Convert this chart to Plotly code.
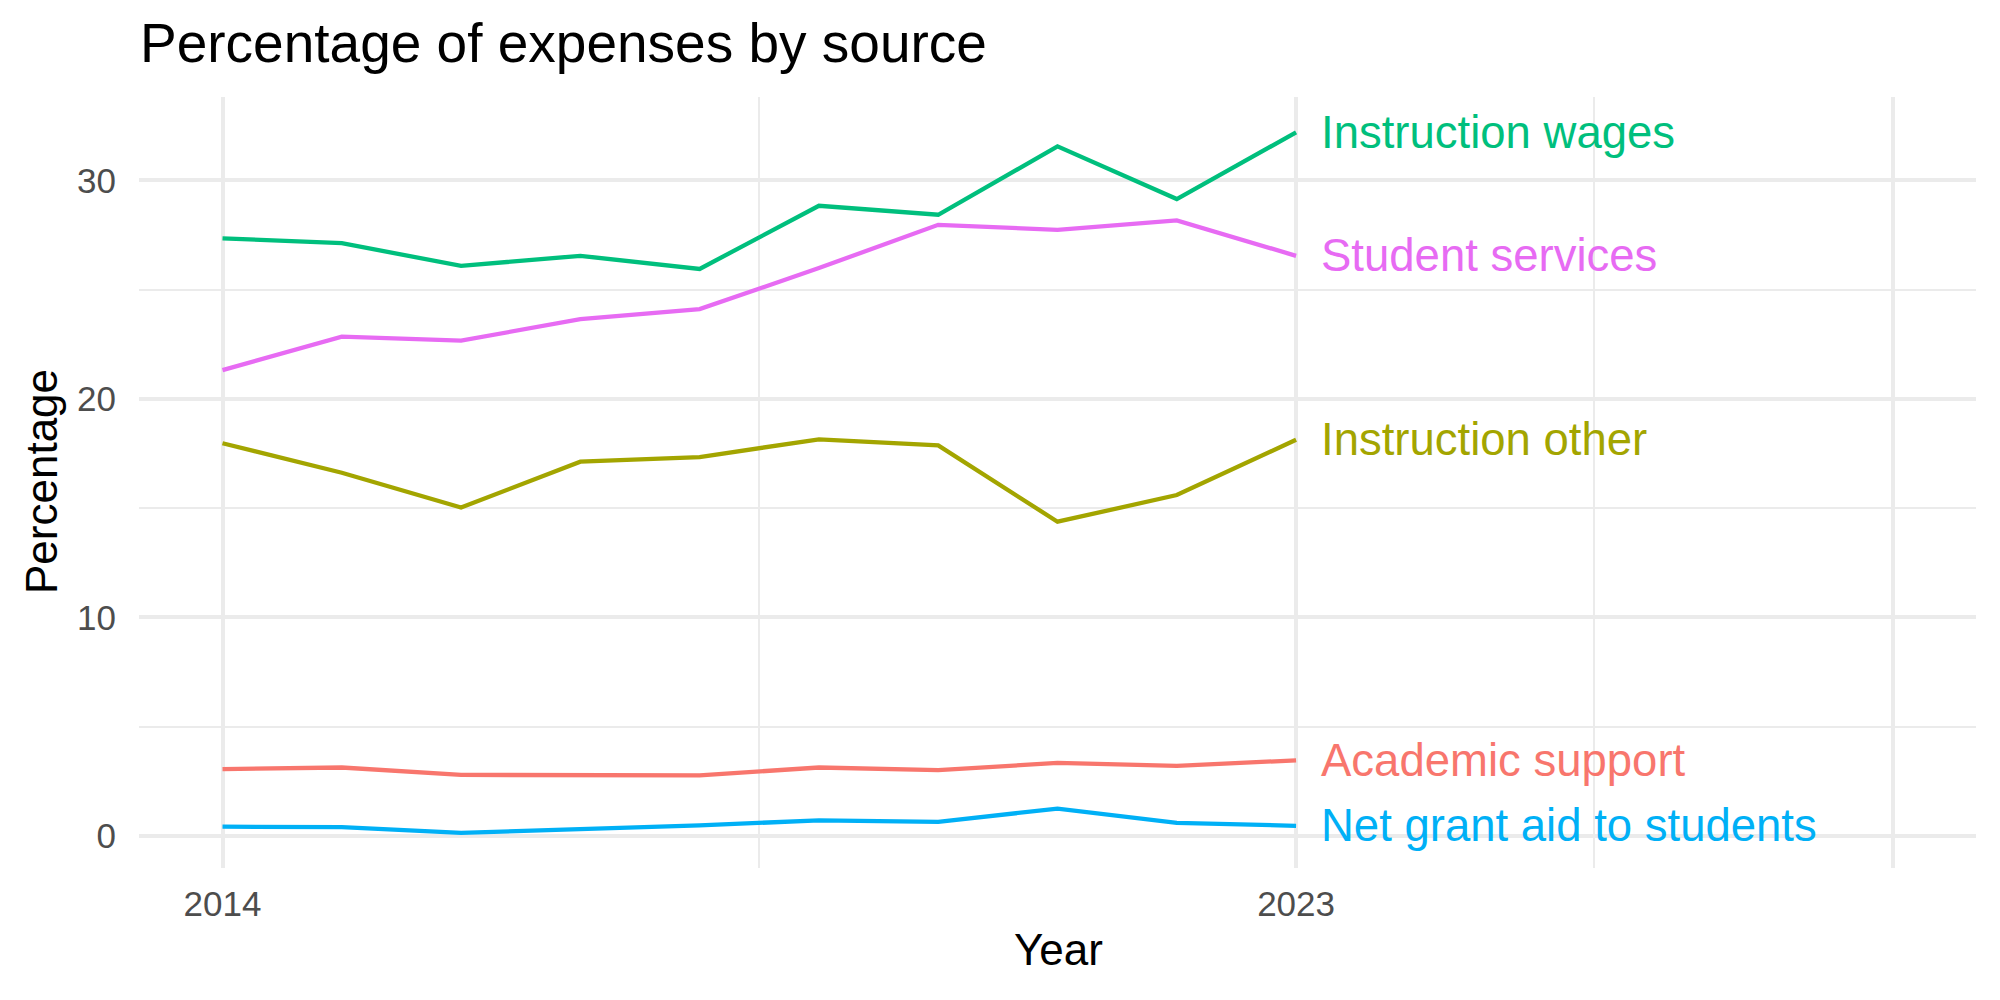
import plotly.graph_objects as go

years = [2014, 2015, 2016, 2017, 2018, 2019, 2020, 2021, 2022, 2023]

series_names = ["Instruction wages", "Student services", "Instruction other",
                "Academic support", "Net grant aid to students"]
instruction_wages = [27.35, 27.13, 26.09, 26.55, 25.95, 28.84, 28.43, 31.56, 29.15, 32.2]
student_services = [21.32, 22.85, 22.67, 23.65, 24.11, 25.99, 27.97, 27.74, 28.17, 26.55]
instruction_other = [17.97, 16.62, 15.03, 17.13, 17.34, 18.15, 17.87, 14.38, 15.6, 18.13]
academic_support = [3.06, 3.13, 2.79, 2.79, 2.77, 3.13, 3.01, 3.34, 3.2, 3.46]
net_grant_aid = [0.42, 0.4, 0.14, 0.3, 0.48, 0.71, 0.64, 1.25, 0.6, 0.46]

series_values = [instruction_wages, student_services, instruction_other,
                 academic_support, net_grant_aid]
colors = ["#00BF7D", "#E76BF3", "#A3A500", "#F8766D", "#00B0F6"]

x_tick_vals = [2014, 2023, 2028]
x_tick_text = ["2014", "2023", ""]
x_minor_vals = [2018.5, 2025.5]
y_tick_vals = [0, 10, 20, 30]
y_minor_vals = [5, 15, 25]

W, H = 2000, 1000
L, R, T, B = 139, 24, 97, 132
pw, ph = W - L - R, H - T - B
FONT = "Liberation Sans"

fig = go.Figure()
for name, vals, col in zip(series_names, series_values, colors):
    fig.add_trace(go.Scatter(x=years, y=vals, mode="lines", name=name,
                             line=dict(color=col, width=4.3), showlegend=False))

annotations = []
for name, vals, col in zip(series_names, series_values, colors):
    annotations.append(dict(x=years[-1] + 0.19, y=vals[-1], xref="x", yref="y",
                            text=name, showarrow=False, xanchor="left", yanchor="middle",
                            font=dict(family=FONT, size=45.5, color=col)))

def px_x(p):
    return (p - L) / pw

def px_y(p):
    return (H - B - p) / ph

annotations.append(dict(x=px_x(138), y=px_y(76), xref="paper", yref="paper",
                        text="Percentage of expenses by source", showarrow=False,
                        xanchor="left", yanchor="bottom",
                        font=dict(family=FONT, size=55, color="black")))
annotations.append(dict(x=px_x(1058), y=px_y(976), xref="paper", yref="paper",
                        text="Year", showarrow=False, xanchor="center", yanchor="bottom",
                        font=dict(family=FONT, size=44, color="black")))
annotations.append(dict(x=px_x(41), y=px_y(482), xref="paper", yref="paper",
                        text="Percentage", showarrow=False, xanchor="center", yanchor="middle",
                        textangle=-90, font=dict(family=FONT, size=44, color="black")))

fig.update_layout(
    width=W, height=H,
    margin=dict(l=L, r=R, t=T, b=B, autoexpand=False),
    paper_bgcolor="white", plot_bgcolor="white",
    annotations=annotations,
    xaxis=dict(range=[2013.3, 2028.7], tickmode="array", tickvals=x_tick_vals,
               ticktext=x_tick_text, showgrid=True, gridcolor="#EBEBEB", gridwidth=4,
               zeroline=False, showline=False, ticks="", ticklabelstandoff=12,
               tickfont=dict(family=FONT, size=35, color="#4D4D4D"),
               minor=dict(tickmode="array", tickvals=x_minor_vals, showgrid=True,
                          gridcolor="#EBEBEB", gridwidth=2.0, ticks="")),
    yaxis=dict(range=[-1.47, 33.82], tickmode="array", tickvals=y_tick_vals,
               showgrid=True, gridcolor="#EBEBEB", gridwidth=4,
               zeroline=False, showline=False, ticks="", ticklabelstandoff=22,
               tickfont=dict(family=FONT, size=35, color="#4D4D4D"),
               minor=dict(tickmode="array", tickvals=y_minor_vals, showgrid=True,
                          gridcolor="#EBEBEB", gridwidth=2.0, ticks="")),
)

fig.write_html("out.html")
